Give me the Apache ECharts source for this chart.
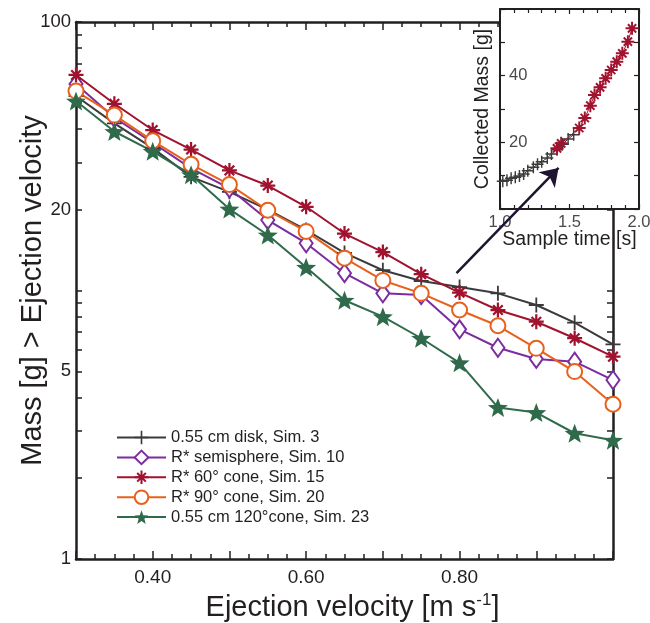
<!DOCTYPE html>
<html>
<head>
<meta charset="utf-8">
<script src="https://cdn.jsdelivr.net/npm/echarts@6/dist/echarts.min.js"></script>
<style>
html,body{margin:0;padding:0;background:#fff;}
#chart{width:650px;height:623px;}
</style>
</head>
<body>
<div id="chart"></div>
<script>
// ---------- data ----------
const velocity = [0.30,0.35,0.40,0.45,0.50,0.55,0.60,0.65,0.70,0.75,0.80,0.85,0.90,0.95,1.00];
const diskSim3 =        [53.0,41.9,33.9,26.5,23.3,20.0,16.8,13.8,11.9,10.85,10.3,9.76,8.83,7.59,6.30];
const semisphereSim10 = [58.8,44.0,35.5,28.5,24.0,18.3,15.0,11.6,9.76,9.62,7.17,6.12,5.56,5.43,4.64];
const cone60Sim15 =     [63.5,49.6,39.6,33.5,28.0,24.6,20.5,16.3,13.9,11.5,9.82,8.46,7.65,6.64,5.67];
const cone90Sim20 =     [55.3,45.0,36.1,29.5,24.8,19.9,16.6,13.2,10.9,9.76,8.46,7.39,6.09,4.99,3.77];
const cone120Sim23 =    [50.8,39.1,33.0,27.0,20.1,16.1,12.2,9.2,7.99,6.64,5.38,3.67,3.51,2.94,2.77];

const seriesNames = ['0.55 cm disk, Sim. 3','R* semisphere, Sim. 10','R* 60\u00b0 cone, Sim. 15','R* 90\u00b0 cone, Sim. 20','0.55 cm 120\u00b0cone, Sim. 23'];

const xLabelValues = [0.4,0.6,0.8];
const yLabelValues = [1,5,20,100];
const yTickValues = [1,2,3,4,5,6,7,8,9,10,20,30,40,50,60,70,80,90,100];

// inset data
const insetTimeBlack = [1.02,1.05,1.08,1.11,1.14,1.17,1.20,1.24,1.27,1.30,1.34,1.37,1.41,1.45,1.49,1.53];
const insetMassBlack = [8.3,8.6,9.2,9.5,9.9,10.5,11.5,12.5,13.4,14.2,15.3,16.5,17.8,19.4,21.0,22.3];
const insetTimeRed = [1.41,1.44,1.57,1.61,1.65,1.68,1.72,1.76,1.80,1.84,1.88,1.92,1.95];
const insetMassRed = [18.2,19.7,24.3,27.3,31.0,34.2,36.5,39.2,41.7,44.2,46.7,50.2,54.2];
const insetXLabels = [1.0,1.5,2.0];
const insetYLabels = [20,40];

// arrow annotation (main-plot data coordinates)
const arrowFrom = [0.796, 11.6];
const arrowTo = [0.929, 28.6];

// ---------- styling ----------
const FONT = "'Liberation Sans', Arial, Helvetica, sans-serif";
const INK = '#231f20';
const C_BLACK = '#3a3a3a', C_PURPLE = '#7b2c9e', C_RED = '#a0122e', C_ORANGE = '#e8611c', C_GREEN = '#2f6b4b';

const plusPath = 'path://M8.8,0H11.2V8.8H20V11.2H11.2V20H8.8V11.2H0V8.8H8.8Z';
const asteriskPath = 'path://M0,8.5L20,8.5L20,11.5L0,11.5Z' +
  'M8.5,0L11.5,0L11.5,20L8.5,20Z' +
  'M4.697,2.575L17.425,15.303L15.303,17.425L2.575,4.697Z' +
  'M2.575,15.303L15.303,2.575L17.425,4.697L4.697,17.425Z';
const starPath = 'path://M10,0L12.469,6.602L19.511,6.910L13.994,11.298L15.878,18.090L10,14.2L4.122,18.090L6.006,11.298L0.489,6.910L7.531,6.602Z';

function pairs(xs, ys){ return xs.map((x,i)=>[x, ys[i]]); }

function mainSeries(name, ys, color, symbol, size, extra){
  return Object.assign({
    name: name, type: 'line', xAxisIndex: 0, yAxisIndex: 0,
    data: pairs(velocity, ys),
    symbol: symbol, symbolSize: size, symbolKeepAspect: true,
    showAllSymbol: true,
    lineStyle: {color: color, width: 2},
    itemStyle: {color: color},
    z: 3
  }, extra || {});
}

const axisLineStyle = {color: INK, width: 2.5};
const tickStyle = {color: INK, width: 1.5};

const option = {
  animation: false,
  backgroundColor: '#fff',
  textStyle: {fontFamily: FONT},
  grid: [
    {left: 76, top: 22, right: 37, bottom: 64, containLabel: false, outerBoundsMode: 'none'},
    {left: 500, top: 9, width: 139, height: 200, show: true, backgroundColor: '#fff', borderWidth: 0, z: 10, containLabel: false, outerBoundsMode: 'none'}
  ],
  legend: {
    data: seriesNames,
    orient: 'vertical', left: 116, top: 429, padding: 0,
    itemWidth: 49, itemHeight: 17, itemGap: 2.9,
    textStyle: {fontFamily: FONT, fontSize: 16.5, color: INK},
    selectedMode: false
  },
  xAxis: [
    {
      type: 'value', gridIndex: 0, min: 0.3, max: 1.0, interval: 0.1, position: 'bottom',
      axisLine: {show: true, onZero: false, lineStyle: axisLineStyle},
      axisTick: {show: true, inside: true, length: 8, lineStyle: tickStyle},
      minorTick: {show: true, splitNumber: 4, length: 5, lineStyle: tickStyle},
      axisLabel: {customValues: xLabelValues, formatter: v => Number(v).toFixed(2), fontSize: 19, color: INK, margin: 9, fontFamily: FONT},
      splitLine: {show: false},
      name: 'Ejection velocity [m s{sup|-1}]', nameLocation: 'middle', nameGap: 33, nameMoveOverlap: false,
      nameTextStyle: {fontSize: 29, color: INK, fontFamily: FONT, padding: [0,0,0,16],
        rich: {sup: {fontSize: 17, color: INK, fontFamily: FONT, verticalAlign: 'top', padding: [0,0,14,0]}}}
    },
    {
      type: 'value', gridIndex: 0, min: 0.3, max: 1.0, interval: 0.1, position: 'top',
      axisLine: {show: true, onZero: false, lineStyle: axisLineStyle},
      axisTick: {show: true, inside: true, length: 8, lineStyle: tickStyle},
      minorTick: {show: true, splitNumber: 4, length: 5, lineStyle: tickStyle},
      axisLabel: {show: false}, splitLine: {show: false}
    },
    {
      type: 'value', gridIndex: 1, min: 1, max: 2, interval: 0.5, position: 'bottom', z: 11,
      axisLine: {show: true, onZero: false, lineStyle: {color: INK, width: 2}},
      axisTick: {show: true, inside: true, length: 5, lineStyle: {color: INK, width: 1.2}},
      minorTick: {show: true, splitNumber: 5, length: 4, lineStyle: {color: INK, width: 1.2}},
      axisLabel: {customValues: insetXLabels, formatter: v => Number(v).toFixed(1), fontSize: 16.5, color: '#4a4a4a', margin: 5, fontFamily: FONT},
      splitLine: {show: false},
      name: 'Sample time [s]', nameLocation: 'middle', nameGap: 21, nameMoveOverlap: false,
      nameTextStyle: {fontSize: 19.5, color: INK, fontFamily: FONT}
    },
    {
      type: 'value', gridIndex: 1, min: 1, max: 2, interval: 0.5, position: 'top', z: 11,
      axisLine: {show: true, onZero: false, lineStyle: {color: INK, width: 2}},
      axisTick: {show: true, inside: true, length: 5, lineStyle: {color: INK, width: 1.2}},
      minorTick: {show: true, splitNumber: 5, length: 4, lineStyle: {color: INK, width: 1.2}},
      axisLabel: {show: false}, splitLine: {show: false}
    }
  ],
  yAxis: [
    {
      type: 'log', logBase: 10, gridIndex: 0, min: 1, max: 100, position: 'left',
      axisLine: {show: true, onZero: false, lineStyle: axisLineStyle},
      axisTick: {show: true, inside: true, length: 6, customValues: yTickValues, lineStyle: tickStyle},
      axisLabel: {customValues: yLabelValues, fontSize: 18.5, color: INK, margin: 5, fontFamily: FONT},
      splitLine: {show: false}, minorTick: {show: false},
      name: 'Mass [g] > Ejection velocity', nameLocation: 'middle', nameGap: 29, nameMoveOverlap: false,
      nameTextStyle: {fontSize: 29, color: INK, fontFamily: FONT}
    },
    {
      type: 'log', logBase: 10, gridIndex: 0, min: 1, max: 100, position: 'right',
      axisLine: {show: true, onZero: false, lineStyle: axisLineStyle},
      axisTick: {show: true, inside: true, length: 6, customValues: yTickValues, lineStyle: tickStyle},
      axisLabel: {show: false}, splitLine: {show: false}
    },
    {
      type: 'value', gridIndex: 1, min: 0, max: 60, interval: 10, position: 'left', z: 11,
      axisLine: {show: true, onZero: false, lineStyle: {color: INK, width: 2}},
      axisTick: {show: true, inside: true, length: 5, lineStyle: {color: INK, width: 1.2}},
      axisLabel: {inside: true, customValues: insetYLabels, fontSize: 16.5, color: '#4a4a4a', margin: 9, fontFamily: FONT},
      splitLine: {show: false},
      name: 'Collected Mass [g]', nameLocation: 'middle', nameGap: 7, nameMoveOverlap: false,
      nameTextStyle: {fontSize: 19.5, color: INK, fontFamily: FONT}
    },
    {
      type: 'value', gridIndex: 1, min: 0, max: 60, interval: 10, position: 'right', z: 11,
      axisLine: {show: true, onZero: false, lineStyle: {color: INK, width: 2}},
      axisTick: {show: true, inside: true, length: 5, lineStyle: {color: INK, width: 1.2}},
      axisLabel: {show: false}, splitLine: {show: false}
    }
  ],
  series: [
    mainSeries(seriesNames[0], diskSim3, C_BLACK, plusPath, 15),
    mainSeries(seriesNames[1], semisphereSim10, C_PURPLE, 'emptyDiamond', [13,18], {itemStyle: {color: C_PURPLE, borderWidth: 2}}),
    mainSeries(seriesNames[2], cone60Sim15, C_RED, asteriskPath, 15),
    mainSeries(seriesNames[3], cone90Sim20, C_ORANGE, 'emptyCircle', 15, {itemStyle: {color: C_ORANGE, borderWidth: 2}}),
    mainSeries(seriesNames[4], cone120Sim23, C_GREEN, starPath, 20),
    {
      name: 'inset-disk', type: 'line', xAxisIndex: 2, yAxisIndex: 2, z: 12,
      data: pairs(insetTimeBlack, insetMassBlack),
      symbol: plusPath, symbolSize: 12, showAllSymbol: true,
      lineStyle: {color: C_BLACK, width: 1}, itemStyle: {color: C_BLACK}
    },
    {
      name: 'inset-cone60', type: 'line', xAxisIndex: 2, yAxisIndex: 2, z: 13,
      data: pairs(insetTimeRed, insetMassRed),
      symbol: asteriskPath, symbolSize: 13, showAllSymbol: true,
      lineStyle: {color: C_RED, width: 1}, itemStyle: {color: C_RED}
    },
    {
      name: 'arrow', type: 'lines', coordinateSystem: 'cartesian2d', xAxisIndex: 0, yAxisIndex: 0,
      z: 20, silent: true,
      symbol: ['none', 'arrow'], symbolSize: [0, 17],
      lineStyle: {color: '#1c1430', width: 2.5, opacity: 1, curveness: 0},
      data: [{coords: [arrowFrom, arrowTo]}]
    }
  ]
};

const chart = echarts.init(document.getElementById('chart'), null, {renderer: 'canvas'});
chart.setOption(option);
</script>
</body>
</html>
